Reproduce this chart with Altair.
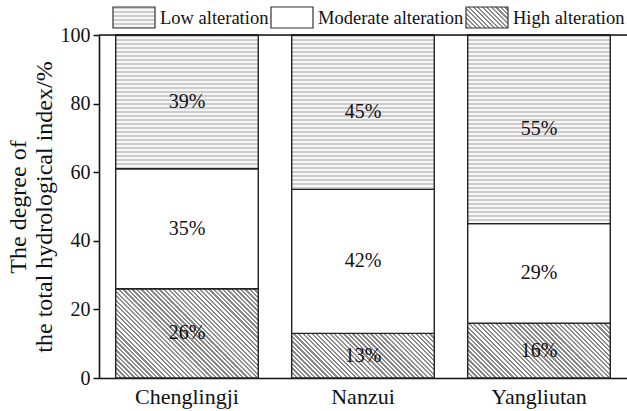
import math

import altair as alt
import pandas as pd

# Share of hydrological indicators in each alteration class (%)
sites = ["Chenglingji", "Nanzui", "Yangliutan"]
high = [26, 13, 16]
moderate = [35, 42, 29]
low = [39, 45, 55]
levels = ["High alteration", "Moderate alteration", "Low alteration"]
legend_order = ["Low alteration", "Moderate alteration", "High alteration"]

FONT = "Liberation Serif"
PLOT_W, PLOT_H = 528, 343
PAD_INNER = 0.19

rows = []
for i, site in enumerate(sites):
    base = 0
    for level, vals in zip(levels, (high, moderate, low)):
        v = vals[i]
        rows.append({"site": site, "level": level, "value": v,
                     "y0": base, "y1": base + v, "ymid": base + v / 2,
                     "label": f"{v}%"})
        base += v
df = pd.DataFrame(rows)

step = PLOT_W / (len(sites) - PAD_INNER + PAD_INNER)
band_w = step * (1 - PAD_INNER)


def hatch_fill(w, h, period=3.2, ink="#8c8c8c", paper="#ffffff"):
    """Diagonal '\\' hatching at 45 degrees for a w x h box, as a gradient."""
    r = h / w
    k = (1 + r) / (1 + r * r)
    n = (w + h) / math.sqrt(2) / period
    stops = []
    i = 0
    while i / n < 1:
        a, m, b = i / n, min((i + 0.5) / n, 1), min((i + 1) / n, 1)
        stops += [{"offset": a, "color": ink}, {"offset": m, "color": ink},
                  {"offset": m, "color": paper}, {"offset": b, "color": paper}]
        i += 1
    return {"gradient": "linear", "x1": 0, "y1": 1, "x2": k, "y2": 1 - k * r,
            "stops": stops}


def rows_fill(h, period=4.0, ink="#cdcdcd", paper="#f6f6f6"):
    """Fine horizontal dashed-looking rows for a box of height h."""
    n = h / period
    stops = []
    i = 0
    while i / n < 1:
        a, m, b = i / n, min((i + 0.5) / n, 1), min((i + 1) / n, 1)
        stops += [{"offset": a, "color": ink}, {"offset": m, "color": ink},
                  {"offset": m, "color": paper}, {"offset": b, "color": paper}]
        i += 1
    return {"gradient": "linear", "x1": 0, "y1": 0, "x2": 0, "y2": 1,
            "stops": stops}


x_enc = alt.X("site:N", sort=sites,
              scale=alt.Scale(domain=sites, paddingInner=PAD_INNER,
                              paddingOuter=PAD_INNER / 2),
              axis=alt.Axis(title=None, ticks=False, labelAngle=0,
                            labelFont=FONT, labelFontSize=22,
                            labelColor="#111", labelPadding=8,
                            domainColor="#111", domainWidth=1.6))
y_enc = alt.Y("y0:Q", scale=alt.Scale(domain=[0, 100], nice=False),
              axis=alt.Axis(values=[0, 20, 40, 60, 80, 100], grid=False,
                            tickSize=6, tickColor="#111", tickWidth=1.5,
                            domainColor="#111", domainWidth=1.6,
                            labelFont=FONT, labelFontSize=20,
                            labelColor="#111", labelPadding=3,
                            title=["The degree of",
                                   "the total hydrological index/%"],
                            titleFont=FONT, titleFontSize=24,
                            titleFontWeight="normal", titleColor="#111",
                            titleLineHeight=26, titlePadding=4))

base = alt.Chart(df)
bar_style = dict(stroke="#222", strokeWidth=1.4)

layers = []
for i, site in enumerate(sites):
    h_px = high[i] / 100 * PLOT_H
    layers.append(
        base.mark_bar(fill=hatch_fill(band_w, h_px), **bar_style)
        .encode(x=x_enc, y=y_enc, y2="y1")
        .transform_filter((alt.datum.site == site)
                          & (alt.datum.level == "High alteration")))

layers.append(
    base.mark_bar(fill="#ffffff", **bar_style)
    .encode(x=x_enc, y=y_enc, y2="y1")
    .transform_filter(alt.datum.level == "Moderate alteration"))

for i, site in enumerate(sites):
    h_px = low[i] / 100 * PLOT_H
    layers.append(
        base.mark_bar(fill=rows_fill(h_px), **bar_style)
        .encode(x=x_enc, y=y_enc, y2="y1")
        .transform_filter((alt.datum.site == site)
                          & (alt.datum.level == "Low alteration")))

labels = base.mark_text(font=FONT, fontSize=20, color="#111").encode(
    x=x_enc, y=alt.Y("ymid:Q"), text="label:N")

top_line = alt.Chart(pd.DataFrame({"y": [100]})).mark_rule(
    color="#111", strokeWidth=1.6).encode(
    y=alt.Y("y:Q"), x=alt.value(0), x2=alt.value(PLOT_W))

# Legend above the plot: swatch + label for each class
legend_fill = {
    "Low alteration": rows_fill(21),
    "Moderate alteration": "#ffffff",
    "High alteration": hatch_fill(42, 21),
}
legend_x = {"Low alteration": 14, "Moderate alteration": 172,
            "High alteration": 367}
legend_layers = []
for name in legend_order:
    ld = alt.Chart(pd.DataFrame({"name": [name]}))
    x0 = legend_x[name]
    legend_layers.append(
        ld.mark_rect(fill=legend_fill[name], stroke="#333", strokeWidth=1.2)
        .encode(x=alt.value(x0), x2=alt.value(x0 + 42),
                y=alt.value(-28), y2=alt.value(-7)))
    legend_layers.append(
        ld.mark_text(font=FONT, fontSize=18.5, color="#111", align="left",
                     baseline="middle")
        .encode(x=alt.value(x0 + 47), y=alt.value(-17), text="name:N"))

chart = alt.layer(*layers, labels, top_line, *legend_layers).properties(
    width=PLOT_W, height=PLOT_H,
    autosize=alt.AutoSizeParams(type="none"),
    padding={"left": 99, "top": 35, "right": 0, "bottom": 33},
).configure_view(stroke=None).configure(background="white")

chart.save("out.html", embed_options={"renderer": "svg", "actions": False})
